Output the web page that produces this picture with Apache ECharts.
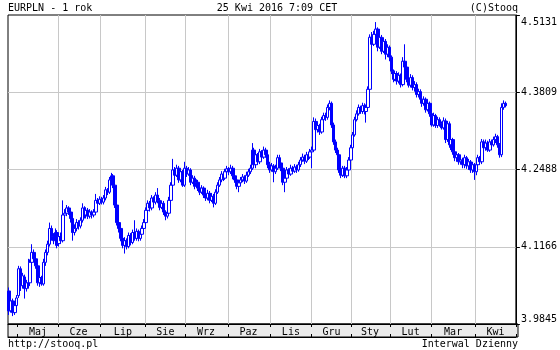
<!DOCTYPE html>
<html><head><meta charset="utf-8">
<script src="https://cdn.jsdelivr.net/npm/echarts@6/dist/echarts.min.js"></script>
<style>html,body{margin:0;padding:0;background:#fff}#c{width:560px;height:350px}</style>
</head><body><div id="c"></div>
<script>
// ---- data ----
const monthLabels = ['Maj','Cze','Lip','Sie','Wrz','Paz','Lis','Gru','Sty','Lut','Mar','Kwi'];
const yTicks = [3.9845, 4.1166, 4.2488, 4.3809, 4.5131];
const firstDay = [2015, 3, 24], lastDay = [2016, 3, 22];
const holidays = ['2015-12-24', '2015-12-25', '2016-01-01'];
const padDays = 5;
const opens = [
4.041,4.007,4.024,4.004,4.016,4.033,4.079,4.050,4.065,4.045,
4.055,4.055,4.090,4.107,4.096,4.084,4.055,4.064,4.053,4.090,
4.107,4.121,4.148,4.134,4.127,4.141,4.122,4.134,4.127,4.171,
4.174,4.183,4.176,4.165,4.141,4.148,4.158,4.152,4.162,4.183,
4.171,4.179,4.169,4.176,4.171,4.176,4.196,4.191,4.198,4.193,
4.200,4.214,4.210,4.231,4.238,4.222,4.188,4.158,4.148,4.131,
4.119,4.127,4.117,4.136,4.124,4.141,4.131,4.143,4.131,4.138,
4.148,4.158,4.179,4.191,4.183,4.200,4.193,4.205,4.196,4.184,
4.191,4.176,4.169,4.174,4.196,4.222,4.248,4.239,4.251,4.231,
4.245,4.222,4.251,4.241,4.248,4.227,4.234,4.220,4.227,4.217,
4.210,4.217,4.205,4.200,4.208,4.196,4.203,4.191,4.210,4.222,
4.231,4.241,4.234,4.245,4.250,4.245,4.251,4.238,4.231,4.220,
4.226,4.231,4.236,4.229,4.239,4.245,4.251,4.282,4.257,4.274,
4.262,4.279,4.270,4.282,4.274,4.257,4.248,4.255,4.245,4.251,
4.269,4.260,4.251,4.227,4.234,4.248,4.241,4.251,4.246,4.253,
4.248,4.257,4.265,4.270,4.263,4.274,4.270,4.279,4.282,4.331,
4.317,4.324,4.313,4.334,4.341,4.338,4.355,4.362,4.325,4.296,
4.282,4.274,4.248,4.239,4.251,4.238,4.248,4.265,4.286,4.308,
4.334,4.344,4.355,4.348,4.358,4.348,4.355,4.386,4.475,4.463,
4.480,4.489,4.458,4.475,4.451,4.468,4.446,4.458,4.441,4.417,
4.403,4.413,4.400,4.410,4.394,4.434,4.424,4.403,4.393,4.406,
4.389,4.394,4.377,4.382,4.369,4.362,4.369,4.351,4.362,4.344,
4.325,4.341,4.324,4.334,4.327,4.320,4.332,4.300,4.327,4.291,
4.300,4.279,4.269,4.274,4.262,4.265,4.257,4.269,4.255,4.262,
4.248,4.257,4.245,4.257,4.269,4.262,4.296,4.286,4.294,4.282,
4.296,4.291,4.300,4.305,4.291,4.274,4.355,4.362];
const closes = [
4.007,4.024,4.004,4.016,4.029,4.079,4.050,4.067,4.045,4.055,
4.050,4.090,4.107,4.096,4.084,4.055,4.064,4.053,4.090,4.107,
4.121,4.148,4.134,4.127,4.141,4.119,4.134,4.127,4.171,4.174,
4.183,4.176,4.165,4.141,4.148,4.158,4.152,4.162,4.183,4.171,
4.179,4.169,4.176,4.171,4.176,4.196,4.191,4.198,4.193,4.200,
4.214,4.210,4.231,4.238,4.222,4.188,4.158,4.148,4.131,4.119,
4.127,4.117,4.136,4.124,4.141,4.131,4.143,4.131,4.138,4.148,
4.158,4.179,4.191,4.183,4.200,4.193,4.205,4.196,4.184,4.191,
4.176,4.169,4.174,4.196,4.222,4.248,4.239,4.251,4.231,4.245,
4.222,4.251,4.241,4.248,4.227,4.234,4.220,4.227,4.217,4.210,
4.217,4.205,4.200,4.208,4.196,4.203,4.191,4.210,4.222,4.231,
4.241,4.234,4.245,4.250,4.245,4.251,4.238,4.231,4.220,4.226,
4.231,4.236,4.229,4.239,4.245,4.251,4.282,4.257,4.274,4.262,
4.279,4.270,4.282,4.274,4.257,4.248,4.255,4.245,4.251,4.269,
4.260,4.251,4.227,4.234,4.248,4.241,4.251,4.246,4.253,4.248,
4.257,4.265,4.270,4.263,4.274,4.270,4.279,4.282,4.331,4.317,
4.324,4.313,4.334,4.341,4.338,4.355,4.362,4.325,4.296,4.282,
4.274,4.248,4.239,4.251,4.238,4.248,4.265,4.286,4.308,4.334,
4.344,4.355,4.348,4.358,4.348,4.355,4.386,4.475,4.463,4.480,
4.489,4.458,4.475,4.451,4.468,4.446,4.458,4.441,4.417,4.403,
4.413,4.400,4.410,4.394,4.434,4.424,4.403,4.393,4.406,4.389,
4.394,4.377,4.382,4.369,4.362,4.369,4.351,4.362,4.344,4.325,
4.341,4.324,4.334,4.327,4.320,4.332,4.300,4.327,4.291,4.300,
4.279,4.269,4.274,4.262,4.265,4.257,4.269,4.255,4.262,4.248,
4.257,4.245,4.257,4.269,4.262,4.296,4.286,4.294,4.282,4.296,
4.291,4.300,4.305,4.291,4.274,4.355,4.362,4.358];
const lows = [
4.000,4.004,3.998,4.000,4.010,4.029,4.041,4.045,4.028,4.040,
4.045,4.050,4.084,4.090,4.079,4.050,4.048,4.050,4.050,4.084,
4.102,4.117,4.127,4.121,4.122,4.114,4.117,4.122,4.124,4.164,
4.169,4.171,4.158,4.127,4.136,4.143,4.146,4.148,4.158,4.165,
4.165,4.164,4.165,4.165,4.167,4.172,4.186,4.188,4.189,4.189,
4.196,4.205,4.207,4.226,4.217,4.183,4.153,4.141,4.126,4.114,
4.105,4.112,4.114,4.119,4.121,4.127,4.127,4.126,4.127,4.134,
4.145,4.155,4.176,4.177,4.179,4.188,4.189,4.191,4.179,4.181,
4.171,4.162,4.165,4.171,4.193,4.219,4.234,4.236,4.226,4.227,
4.219,4.219,4.236,4.238,4.222,4.224,4.215,4.217,4.212,4.205,
4.207,4.200,4.195,4.196,4.191,4.193,4.184,4.188,4.207,4.219,
4.227,4.229,4.231,4.241,4.239,4.241,4.232,4.226,4.215,4.210,
4.222,4.227,4.224,4.226,4.236,4.241,4.248,4.253,4.251,4.257,
4.258,4.265,4.267,4.269,4.251,4.243,4.245,4.227,4.241,4.248,
4.255,4.246,4.222,4.210,4.231,4.236,4.238,4.241,4.243,4.243,
4.245,4.253,4.262,4.258,4.260,4.265,4.267,4.251,4.279,4.312,
4.312,4.308,4.310,4.331,4.332,4.334,4.350,4.320,4.291,4.277,
4.269,4.243,4.234,4.236,4.234,4.234,4.245,4.262,4.282,4.305,
4.331,4.341,4.344,4.344,4.343,4.329,4.351,4.382,4.458,4.460,
4.475,4.451,4.455,4.446,4.448,4.437,4.441,4.434,4.412,4.398,
4.400,4.394,4.396,4.389,4.391,4.418,4.398,4.389,4.389,4.384,
4.382,4.372,4.372,4.363,4.356,4.358,4.346,4.348,4.339,4.322,
4.322,4.320,4.320,4.322,4.317,4.317,4.294,4.296,4.286,4.282,
4.274,4.263,4.262,4.257,4.257,4.251,4.251,4.250,4.248,4.243,
4.243,4.231,4.239,4.253,4.257,4.258,4.279,4.281,4.279,4.279,
4.286,4.288,4.294,4.286,4.269,4.270,4.351,4.355];
const highs = [
4.047,4.029,4.028,4.019,4.034,4.084,4.083,4.072,4.069,4.060,
4.096,4.095,4.121,4.112,4.103,4.090,4.071,4.067,4.096,4.112,
4.127,4.158,4.153,4.140,4.148,4.145,4.140,4.141,4.196,4.181,
4.188,4.186,4.181,4.169,4.155,4.164,4.162,4.167,4.191,4.186,
4.184,4.183,4.181,4.179,4.181,4.207,4.200,4.203,4.202,4.205,
4.219,4.217,4.236,4.243,4.241,4.226,4.191,4.164,4.152,4.136,
4.133,4.131,4.141,4.140,4.146,4.162,4.148,4.146,4.143,4.153,
4.164,4.184,4.196,4.195,4.205,4.203,4.210,4.217,4.200,4.196,
4.195,4.179,4.179,4.202,4.227,4.267,4.253,4.257,4.255,4.248,
4.248,4.262,4.255,4.253,4.251,4.239,4.238,4.232,4.231,4.220,
4.222,4.220,4.210,4.214,4.212,4.208,4.207,4.215,4.227,4.236,
4.246,4.245,4.250,4.255,4.253,4.257,4.255,4.241,4.234,4.231,
4.236,4.241,4.239,4.245,4.250,4.257,4.294,4.286,4.279,4.277,
4.284,4.282,4.288,4.286,4.277,4.262,4.260,4.258,4.257,4.274,
4.274,4.263,4.255,4.239,4.253,4.251,4.257,4.255,4.258,4.257,
4.262,4.270,4.276,4.274,4.279,4.277,4.284,4.288,4.338,4.336,
4.329,4.327,4.339,4.346,4.346,4.360,4.367,4.365,4.329,4.300,
4.286,4.277,4.251,4.255,4.255,4.253,4.270,4.291,4.313,4.339,
4.350,4.360,4.358,4.363,4.362,4.360,4.391,4.480,4.484,4.486,
4.501,4.492,4.480,4.479,4.475,4.472,4.463,4.461,4.444,4.420,
4.418,4.417,4.415,4.413,4.441,4.463,4.427,4.406,4.412,4.410,
4.400,4.398,4.387,4.386,4.372,4.374,4.372,4.367,4.365,4.348,
4.346,4.344,4.339,4.338,4.331,4.338,4.336,4.332,4.331,4.305,
4.303,4.282,4.279,4.277,4.270,4.269,4.274,4.272,4.267,4.265,
4.262,4.260,4.262,4.274,4.272,4.301,4.300,4.300,4.298,4.301,
4.300,4.305,4.310,4.308,4.294,4.362,4.367,4.365];

// ---- trading-day categories (weekdays, minus holidays) ----
const dates = [];
{
  const d = new Date(Date.UTC(firstDay[0], firstDay[1], firstDay[2]));
  const end = new Date(Date.UTC(lastDay[0], lastDay[1], lastDay[2]));
  while (d <= end) {
    const wd = d.getUTCDay();
    const s = d.toISOString().slice(0, 10);
    if (wd !== 0 && wd !== 6 && holidays.indexOf(s) < 0) dates.push(s);
    d.setUTCDate(d.getUTCDate() + 1);
  }
}
if (dates.length !== closes.length || opens.length !== closes.length || lows.length !== closes.length || highs.length !== closes.length) {
  throw new Error('length mismatch ' + dates.length + ' ' + opens.length + ' ' + closes.length + ' ' + lows.length + ' ' + highs.length);
}
const cats = dates.slice();
for (let i = 0; i < padDays; i++) cats.push('pad' + i);

// month boundaries & label positions
const starts = [0];
for (let i = 1; i < dates.length; i++) if (dates[i].slice(0, 7) !== dates[i - 1].slice(0, 7)) starts.push(i);
const startSet = new Set(starts.slice(1));
const midMap = new Map();
for (let k = 1; k < starts.length; k++) {
  const s = starts[k];
  const e = (k + 1 < starts.length) ? starts[k + 1] - 1 : cats.length - 1;
  midMap.set(Math.floor((s + e) / 2), monthLabels[k - 1]);
}

const FONT = 'DejaVu Sans Mono';
const chart = echarts.init(document.getElementById('c'), null, {renderer: 'canvas'});
const gridL = 8, gridT = 15, gridW = 510, gridH = 309;
const yMax = yTicks[yTicks.length - 1];
chart.setOption({
  animation: false,
  backgroundColor: '#ffffff',
  grid: {left: gridL, top: gridT, width: gridW, height: gridH, show: true, borderColor: '#000', borderWidth: 1, backgroundColor: 'transparent'},
  xAxis: [{
    type: 'category', data: cats, boundaryGap: true, position: 'bottom',
    axisLine: {show: true, lineStyle: {color: '#000'}},
    axisTick: {show: true, interval: (i) => startSet.has(i), length: 3, lineStyle: {color: '#000'}},
    axisLabel: {show: true, interval: (i) => midMap.has(i), formatter: (v, i) => midMap.get(i) || '',
      color: '#000', fontFamily: FONT, fontSize: 10, margin: 3},
    splitLine: {show: true, interval: (i) => startSet.has(i), showMinLine: false, showMaxLine: false, lineStyle: {color: '#c8c8c8', width: 1}}
  }, {
    type: 'category', data: cats, boundaryGap: true, position: 'bottom', offset: 13,
    axisLine: {show: true, lineStyle: {color: '#000'}},
    axisTick: {show: true, inside: true, interval: (i) => startSet.has(i), length: 3, lineStyle: {color: '#000'}},
    axisLabel: {show: false}, splitLine: {show: false}
  }],
  yAxis: {
    type: 'value', position: 'right', scale: true,
    min: yTicks[0], max: yMax, interval: (yMax - yTicks[0]) / (yTicks.length - 1),
    axisLine: {show: true, lineStyle: {color: '#000'}},
    axisTick: {show: true, length: 4, lineStyle: {color: '#000'}},
    axisLabel: {
      formatter: (v) => {
        let best = yTicks[0];
        yTicks.forEach(t => { if (Math.abs(t - v) < Math.abs(best - v)) best = t; });
        const txt = best.toFixed(4);
        return best === yMax ? '{t|' + txt + '}' : txt;
      },
      rich: {t: {padding: [2, 0, 0, 0], color: '#000', fontFamily: FONT, fontSize: 10}},
      margin: 5, color: '#000', fontFamily: FONT, fontSize: 10,
      verticalAlignMinLabel: 'bottom', verticalAlignMaxLabel: 'top'
    },
    splitLine: {show: true, showMinLine: false, showMaxLine: false, lineStyle: {color: '#c8c8c8', width: 1}}
  },
  graphic: {elements: [
    {type: 'rect', z: -1, shape: {x: gridL, y: gridT + gridH, width: gridW, height: 13}, style: {fill: '#ebebeb', stroke: '#000', lineWidth: 1}},
    {type: 'text', x: 8, y: 8, style: {text: 'EURPLN - 1 rok', font: '10px ' + FONT, fill: '#000', align: 'left', verticalAlign: 'middle', textAlign: 'left', textVerticalAlign: 'middle'}},
    {type: 'text', x: 277, y: 8, style: {text: '25 Kwi 2016 7:09 CET', font: '10px ' + FONT, fill: '#000', align: 'center', verticalAlign: 'middle', textAlign: 'center', textVerticalAlign: 'middle'}},
    {type: 'text', x: 518, y: 8, style: {text: '(C)Stooq', font: '10px ' + FONT, fill: '#000', align: 'right', verticalAlign: 'middle', textAlign: 'right', textVerticalAlign: 'middle'}},
    {type: 'text', x: 8, y: 344, style: {text: 'http://stooq.pl', font: '10px ' + FONT, fill: '#000', align: 'left', verticalAlign: 'middle', textAlign: 'left', textVerticalAlign: 'middle'}},
    {type: 'text', x: 518, y: 344, style: {text: 'Interwal Dzienny', font: '10px ' + FONT, fill: '#000', align: 'right', verticalAlign: 'middle', textAlign: 'right', textVerticalAlign: 'middle'}}
  ]},
  series: [{
    type: 'candlestick', xAxisIndex: 0,
    data: opens.map((o, i) => [o, closes[i], lows[i], highs[i]]),
    barWidth: 3,
    itemStyle: {color: '#ffffff', color0: '#0000ff', borderColor: '#0000ff', borderColor0: '#0000ff', borderColorDoji: '#0000ff', borderWidth: 1}
  }]
});
</script>
</body></html>
